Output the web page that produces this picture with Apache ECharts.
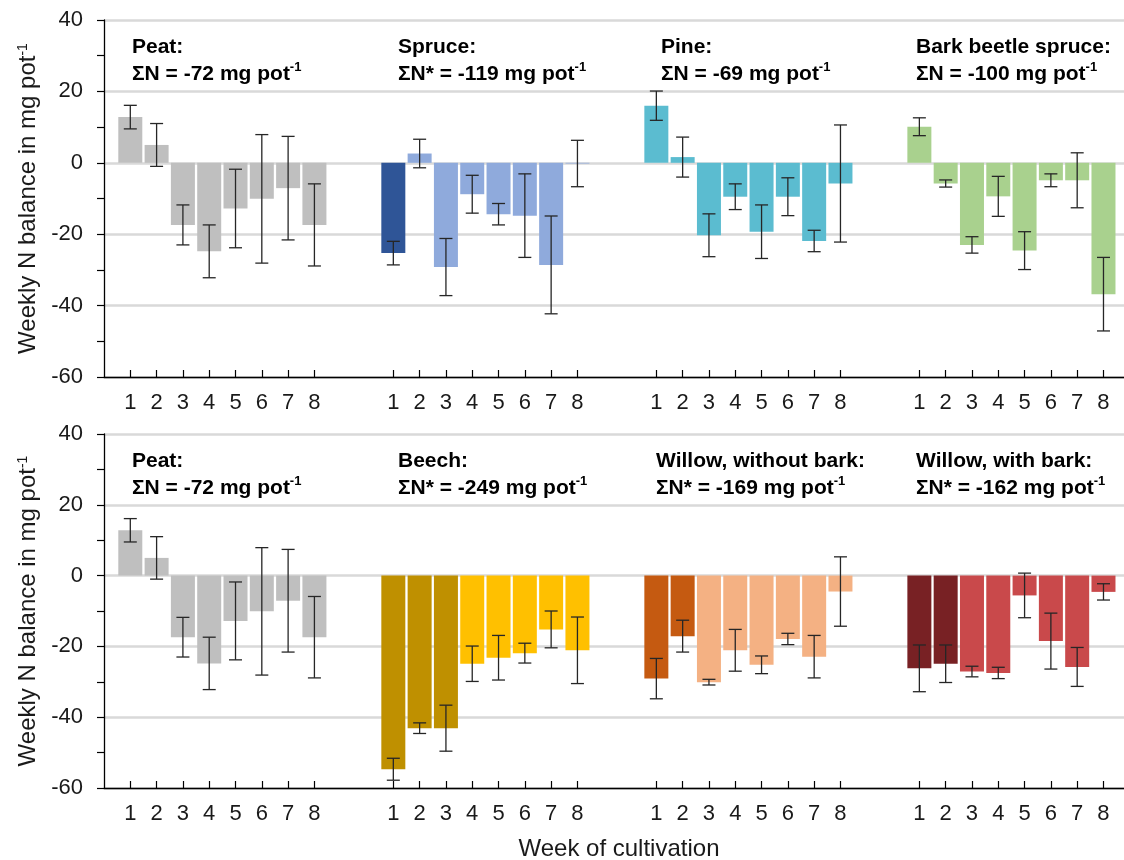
<!DOCTYPE html>
<html><head><meta charset="utf-8">
<script src="https://cdn.jsdelivr.net/npm/echarts@6/dist/echarts.min.js"></script>
<style>html,body{margin:0;padding:0;background:#fff}#c{width:1124px;height:860px}</style>
</head><body><div id="c"></div>
<script>
// ---------- data ----------
const weeks = ['1','2','3','4','5','6','7','8'];
const yTicks = [-60, -40, -20, 0, 20, 40];

const topGroups = ['Peat', 'Spruce', 'Pine', 'Bark beetle spruce'];
const topSums   = ['ΣN = -72', 'ΣN* = -119', 'ΣN = -69', 'ΣN = -100'];
const bottomGroups = ['Peat', 'Beech', 'Willow, without bark', 'Willow, with bark'];
const bottomSums   = ['ΣN = -72', 'ΣN* = -249', 'ΣN* = -169', 'ΣN* = -162'];

const peatMean   = [12.8, 5.0, -17.4, -24.8, -12.8, -10.1, -7.1, -17.4];
const peatErr    = [3.3, 6.0, 5.6, 7.4, 11.0, 18.0, 14.5, 11.5];
const spruceMean = [-25.3, 2.6, -29.2, -8.8, -14.4, -14.8, -28.6, -0.2];
const spruceErr  = [3.3, 4.0, 8.0, 5.3, 3.0, 11.7, 13.7, 6.5];
const pineMean   = [16.0, 1.6, -20.3, -9.5, -19.3, -9.5, -21.9, -5.8];
const pineErr    = [4.1, 5.6, 6.0, 3.6, 7.5, 5.3, 3.0, 16.4];
const barkMean   = [10.1, -5.8, -23.0, -9.4, -24.6, -4.9, -4.9, -36.8];
const barkErr    = [2.5, 1.0, 2.3, 5.6, 5.3, 1.8, 7.7, 10.3];
const beechMean  = [-54.7, -43.1, -43.1, -24.9, -23.2, -21.9, -15.2, -21.1];
const beechErr   = [3.1, 1.5, 6.5, 5.0, 6.3, 2.8, 5.2, 9.4];
const willowNoMean   = [-29.1, -17.1, -30.1, -21.1, -25.2, -17.9, -22.9, -4.5];
const willowNoErr    = [5.7, 4.5, 0.8, 5.9, 2.5, 1.6, 6.0, 9.8];
const willowWithMean = [-26.2, -24.9, -27.1, -27.5, -5.6, -18.5, -25.8, -4.6];
const willowWithErr  = [6.6, 5.3, 1.5, 1.6, 6.3, 7.9, 5.5, 2.3];

// ---------- styles ----------
const FONT = 'Liberation Sans, Arial, Helvetica, sans-serif';
const topStyles = [
  {dark: 0, darkColor: '#BFBFBF', color: '#BFBFBF'},
  {dark: 1, darkColor: '#2F5597', color: '#8FAADC'},
  {dark: 0, darkColor: '#5BBCD0', color: '#5BBCD0'},
  {dark: 0, darkColor: '#A9D18E', color: '#A9D18E'}
];
const bottomStyles = [
  {dark: 0, darkColor: '#BFBFBF', color: '#BFBFBF'},
  {dark: 3, darkColor: '#BF9000', color: '#FFC000'},
  {dark: 2, darkColor: '#C55A11', color: '#F4B183'},
  {dark: 2, darkColor: '#782124', color: '#C9494B'}
];
const topData = [[peatMean, peatErr], [spruceMean, spruceErr], [pineMean, pineErr], [barkMean, barkErr]];
const bottomData = [[peatMean, peatErr], [beechMean, beechErr], [willowNoMean, willowNoErr], [willowWithMean, willowWithErr]];

const slot = (g, w) => g * 10 + w + 1;
const slotValues = [];
for (let g = 0; g < 4; g++) for (let w = 0; w < weeks.length; w++) slotValues.push(slot(g, w));

function errRender(params, api) {
  const x = api.value(0), y = api.value(1), e = api.value(2);
  const hi = api.coord([x, y + e]), lo = api.coord([x, y - e]);
  const hw = 6.5;
  const st = {stroke: '#262626', lineWidth: 1.3};
  return {type: 'group', children: [
    {type: 'line', shape: {x1: hi[0], y1: hi[1], x2: lo[0], y2: lo[1]}, style: st},
    {type: 'line', shape: {x1: hi[0] - hw, y1: hi[1], x2: hi[0] + hw, y2: hi[1]}, style: st},
    {type: 'line', shape: {x1: lo[0] - hw, y1: lo[1], x2: lo[0] + hw, y2: lo[1]}, style: st}
  ]};
}

const series = [];
function addPanel(idx, data, styles) {
  const barData = [], errData = [];
  data.forEach((d, g) => {
    const [mean, err] = d;
    const s = styles[g];
    mean.forEach((v, w) => {
      barData.push({value: [slot(g, w), v], itemStyle: {color: w < s.dark ? s.darkColor : s.color}});
      errData.push([slot(g, w), v, err[w]]);
    });
  });
  series.push({type: 'bar', xAxisIndex: idx, yAxisIndex: idx, barWidth: 24, data: barData, silent: true, z: 2});
  series.push({type: 'custom', xAxisIndex: idx, yAxisIndex: idx, renderItem: errRender,
    encode: {x: 0, y: 1}, data: errData, silent: true, z: 5});
}
addPanel(0, topData, topStyles);
addPanel(1, bottomData, bottomStyles);

const grids = [
  {left: 104, right: 0, top: 20, height: 357},
  {left: 104, right: 0, top: 434, height: 354}
];
const xMax = 38.78;
function makeX(i) {
  return {
    type: 'value', gridIndex: i, min: 0, max: xMax,
    axisLine: {show: true, onZero: false, lineStyle: {color: '#000', width: 1.3}},
    axisTick: {show: true, inside: true, length: 7, customValues: slotValues, lineStyle: {color: '#000', width: 1.2}},
    axisLabel: {show: true, customValues: slotValues, margin: 15, fontSize: 22, color: '#1a1a1a', fontFamily: FONT,
      formatter: v => weeks[Math.round(v) % 10 - 1] || ''},
    splitLine: {show: false}
  };
}
function makeY(i) {
  return {
    type: 'value', gridIndex: i, min: yTicks[0], max: yTicks[yTicks.length - 1], interval: 20,
    name: 'Weekly N balance in mg pot{s|-1}', nameLocation: 'middle', nameGap: 62,
    nameTextStyle: {fontSize: 24, color: '#1a1a1a', fontFamily: FONT,
      rich: {s: {fontSize: 14, verticalAlign: 'top', fontFamily: FONT, color: '#1a1a1a'}}},
    axisLine: {show: true, onZero: false, lineStyle: {color: '#000', width: 1.3}},
    axisTick: {show: true, inside: false, length: 7, lineStyle: {color: '#000', width: 1.2}},
    minorTick: {show: true, splitNumber: 2, length: 7, lineStyle: {color: '#000', width: 1.2}},
    axisLabel: {margin: 21, fontSize: 22, color: '#1a1a1a', fontFamily: FONT},
    splitLine: {show: true, lineStyle: {color: '#D9D9D9', width: 2.5}}
  };
}

function label(x, y, name, sum) {
  return {
    type: 'text', x: x, y: y, z: 10,
    style: {
      text: '{b|' + name + ':}\n{b|' + sum + ' mg pot}{s|-1}',
      rich: {
        b: {fontSize: 21, fontWeight: 'bold', fontFamily: FONT, fill: '#000', lineHeight: 27},
        s: {fontSize: 13, fontWeight: 'bold', fontFamily: FONT, fill: '#000', verticalAlign: 'top', lineHeight: 27}
      },
      verticalAlign: 'top', align: 'left'
    }
  };
}
const topLabelX = [132, 398, 661, 916];
const bottomLabelX = [132, 398, 656, 916];
const graphics = [];
topGroups.forEach((n, i) => graphics.push(label(topLabelX[i], 34, n, topSums[i])));
bottomGroups.forEach((n, i) => graphics.push(label(bottomLabelX[i], 448, n, bottomSums[i])));
graphics.push({type: 'text', x: 619, y: 849, style: {text: 'Week of cultivation', fontSize: 24, fontFamily: FONT, fill: '#1a1a1a', align: 'center', verticalAlign: 'middle'}});

const chart = echarts.init(document.getElementById('c'), null, {renderer: 'canvas'});
chart.setOption({
  backgroundColor: '#fff',
  animation: false,
  grid: grids,
  xAxis: [makeX(0), makeX(1)],
  yAxis: [makeY(0), makeY(1)],
  series: series,
  graphic: graphics
});
</script></body></html>
